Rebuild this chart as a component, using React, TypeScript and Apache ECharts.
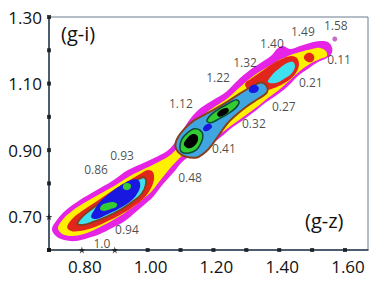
import React, { useEffect, useRef } from "react";
import * as echarts from "echarts";

type Pt = [number, number];

// axis labels and tick markers
const xTickLabels = ["0.80", "1.00", "1.20", "1.40", "1.60"];
const yTickLabels = ["0.70", "0.90", "1.10", "1.30"];
const xMarkers = [0.7, 0.8, 0.9, 1.0, 1.1, 1.2, 1.3, 1.4, 1.5, 1.6];
const yMarkers = [0.6, 0.7, 0.8, 0.9, 1.0, 1.1, 1.2, 1.3];
const starMarkers: Pt[] = [[0.8, 0.6], [0.9, 0.6], [0.7, 0.7]];

// density contour outlines, (g-z, g-i)
const magentaBand: Pt[] = [
  [0.709, 0.663], [0.724, 0.69], [0.752, 0.72], [0.794, 0.75], [0.84, 0.777], [0.892, 0.807],
  [0.94, 0.84], [0.992, 0.864], [1.031, 0.882], [1.062, 0.9], [1.086, 0.927], [1.107, 0.96],
  [1.132, 0.997], [1.162, 1.027], [1.199, 1.051], [1.238, 1.075], [1.275, 1.111], [1.311, 1.141],
  [1.348, 1.165], [1.378, 1.186], [1.393, 1.204], [1.411, 1.213], [1.433, 1.204], [1.463, 1.213],
  [1.493, 1.222], [1.524, 1.228], [1.548, 1.225], [1.56, 1.21], [1.56, 1.192], [1.545, 1.177],
  [1.518, 1.165], [1.487, 1.144], [1.457, 1.123], [1.427, 1.093], [1.393, 1.066], [1.357, 1.042],
  [1.32, 1.012], [1.287, 0.988], [1.256, 0.967], [1.226, 0.942], [1.196, 0.921], [1.168, 0.906],
  [1.138, 0.888], [1.107, 0.867], [1.077, 0.831], [1.047, 0.798], [1.016, 0.759], [0.989, 0.735],
  [0.964, 0.714], [0.931, 0.687], [0.892, 0.666], [0.855, 0.648], [0.819, 0.636], [0.782, 0.627],
  [0.746, 0.63], [0.721, 0.642],
];
const yellowBand: Pt[] = [
  [0.727, 0.666], [0.743, 0.693], [0.77, 0.717], [0.806, 0.741], [0.849, 0.765], [0.898, 0.792],
  [0.946, 0.822], [0.995, 0.846], [1.037, 0.867], [1.068, 0.885], [1.092, 0.909], [1.116, 0.939],
  [1.141, 0.976], [1.171, 1.006], [1.208, 1.033], [1.244, 1.057], [1.281, 1.09], [1.317, 1.12],
  [1.354, 1.144], [1.39, 1.165], [1.427, 1.183], [1.463, 1.195], [1.5, 1.204], [1.524, 1.207],
  [1.542, 1.198], [1.545, 1.183], [1.524, 1.174], [1.493, 1.159], [1.463, 1.138], [1.433, 1.111],
  [1.399, 1.081], [1.366, 1.057], [1.329, 1.027], [1.296, 1.003], [1.262, 0.979], [1.232, 0.957],
  [1.202, 0.936], [1.174, 0.921], [1.144, 0.906], [1.107, 0.885], [1.074, 0.852], [1.044, 0.816],
  [1.013, 0.777], [0.983, 0.75], [0.952, 0.726], [0.916, 0.702], [0.879, 0.681], [0.843, 0.663],
  [0.806, 0.648], [0.77, 0.642], [0.74, 0.648],
];
const redLower: Pt[] = [
  [0.755, 0.669], [0.77, 0.693], [0.8, 0.717], [0.837, 0.741], [0.873, 0.765], [0.91, 0.789],
  [0.946, 0.81], [0.977, 0.828], [1.001, 0.84], [1.016, 0.834], [1.019, 0.81], [1.007, 0.78],
  [0.986, 0.753], [0.955, 0.729], [0.916, 0.705], [0.873, 0.684], [0.831, 0.666], [0.794, 0.657],
  [0.767, 0.657],
];
const redUpper: Pt[] = [
  [1.296, 1.099], [1.317, 1.117], [1.348, 1.138], [1.378, 1.159], [1.408, 1.174], [1.436, 1.183],
  [1.454, 1.177], [1.46, 1.156], [1.451, 1.132], [1.43, 1.111], [1.399, 1.093], [1.366, 1.081],
  [1.335, 1.075], [1.311, 1.078],
];
const redTip: Pt[] = [
  [1.475, 1.177], [1.481, 1.189], [1.496, 1.192], [1.506, 1.183], [1.503, 1.168], [1.487, 1.165],
];
const cyanLower: Pt[] = [
  [0.786, 0.679], [0.805, 0.704], [0.836, 0.728], [0.87, 0.752], [0.907, 0.776], [0.943, 0.797],
  [0.972, 0.813], [0.99, 0.818], [0.995, 0.798], [0.982, 0.769], [0.953, 0.744], [0.916, 0.72],
  [0.873, 0.699], [0.834, 0.684], [0.803, 0.675],
];
const cyanUpper: Pt[] = [
  [1.366, 1.105], [1.381, 1.129], [1.402, 1.147], [1.424, 1.162], [1.442, 1.165], [1.448, 1.15],
  [1.436, 1.129], [1.414, 1.114], [1.39, 1.102],
];
const skyMid: Pt[] = [
  [1.084, 0.914], [1.093, 0.94], [1.114, 0.966], [1.139, 0.988], [1.172, 1.006], [1.207, 1.025],
  [1.243, 1.046], [1.28, 1.07], [1.316, 1.091], [1.344, 1.103], [1.362, 1.093], [1.362, 1.073],
  [1.329, 1.05], [1.298, 1.029], [1.268, 1.005], [1.242, 0.98], [1.218, 0.947], [1.2, 0.922],
  [1.18, 0.898], [1.15, 0.878], [1.114, 0.881], [1.093, 0.894],
];
const blueLower: Pt[] = [
  [0.828, 0.699], [0.84, 0.724], [0.858, 0.748], [0.883, 0.77], [0.908, 0.788], [0.933, 0.803],
  [0.955, 0.812], [0.973, 0.809], [0.977, 0.789], [0.964, 0.763], [0.942, 0.742], [0.911, 0.723],
  [0.873, 0.705], [0.843, 0.693],
];
const blueSpotMid: Pt[] = [
  [1.168, 0.964], [1.177, 0.976], [1.189, 0.979], [1.196, 0.97], [1.186, 0.96], [1.174, 0.957],
];
const blueSpotTop: Pt[] = [
  [1.308, 1.078], [1.314, 1.093], [1.329, 1.096], [1.338, 1.087], [1.332, 1.075], [1.317, 1.072],
];
const greenLower1: Pt[] = [
  [0.855, 0.723], [0.861, 0.735], [0.876, 0.741], [0.895, 0.744], [0.907, 0.738], [0.904, 0.729],
  [0.888, 0.723], [0.867, 0.717],
];
const greenLower2: Pt[] = [
  [0.925, 0.786], [0.928, 0.798], [0.94, 0.801], [0.949, 0.795], [0.946, 0.783], [0.934, 0.78],
];
const greenMidA: Pt[] = [
  [1.098, 0.909], [1.104, 0.933], [1.12, 0.951], [1.141, 0.964], [1.159, 0.96], [1.168, 0.945],
  [1.162, 0.921], [1.147, 0.9], [1.123, 0.891], [1.104, 0.894],
];
const greenMidB: Pt[] = [
  [1.18, 0.988], [1.192, 1.006], [1.217, 1.024], [1.244, 1.039], [1.268, 1.051], [1.278, 1.045],
  [1.268, 1.027], [1.244, 1.009], [1.217, 0.994], [1.192, 0.982],
];
const blackMidA: Pt[] = [
  [1.11, 0.918], [1.12, 0.936], [1.135, 0.948], [1.15, 0.945], [1.153, 0.93], [1.141, 0.912],
  [1.123, 0.906],
];
const blackMidB: Pt[] = [
  [1.211, 1.009], [1.223, 1.021], [1.241, 1.027], [1.247, 1.018], [1.235, 1.006], [1.217, 1.0],
];
const outlierPoint: Pt[] = [[1.569, 1.234]];

// annotation numbers
const annotationTexts = [
  "1.58", "1.49", "1.40", "1.32", "1.22", "1.12", "0.93", "0.86",
  "0.11", "0.21", "0.27", "0.32", "0.41", "0.48", "0.94", "1.0",
];
const annotationAt: Pt[] = [
  [1.572, 1.273], [1.472, 1.255], [1.378, 1.219], [1.296, 1.162], [1.214, 1.117], [1.101, 1.039],
  [0.922, 0.885], [0.843, 0.843], [1.582, 1.171], [1.496, 1.102], [1.414, 1.03], [1.323, 0.979],
  [1.232, 0.906], [1.129, 0.819], [0.937, 0.663], [0.861, 0.621],
];

const FONT = '"Open Sans", "Liberation Sans", sans-serif';

export default function App() {
  const ref = useRef<HTMLDivElement>(null);
  useEffect(() => {
    if (!ref.current) return;
    const chart = echarts.init(ref.current, undefined, { renderer: "svg" });
    const teal = "#0c4a3a";
    const brown = "#8a3f1c";
    const layers: { pts: Pt[]; fill: string; stroke?: string; lw?: number }[] = [
      { pts: magentaBand, fill: "#e524e5" },
      { pts: yellowBand, fill: "#fff000" },
      { pts: redLower, fill: "#e3261c" },
      { pts: redUpper, fill: "#e3261c" },
      { pts: redTip, fill: "#e3261c" },
      { pts: cyanLower, fill: "#3fe0f0", stroke: brown, lw: 2 },
      { pts: cyanUpper, fill: "#3fe0f0" },
      { pts: skyMid, fill: "#3fa6e2", stroke: brown, lw: 2 },
      { pts: blueLower, fill: "#1818e0" },
      { pts: greenLower1, fill: "#33cc33" },
      { pts: greenLower2, fill: "#33cc33" },
      { pts: greenMidA, fill: "#33cc33", stroke: teal, lw: 1.5 },
      { pts: greenMidB, fill: "#33cc33", stroke: teal, lw: 1.5 },
      { pts: blueSpotMid, fill: "#1818e0" },
      { pts: blueSpotTop, fill: "#1818e0" },
      { pts: blackMidA, fill: "#000000" },
      { pts: blackMidB, fill: "#000000" },
    ];
    const squares: Pt[] = [];
    const isStar = (p: Pt) =>
      starMarkers.some((s) => Math.abs(s[0] - p[0]) < 1e-6 && Math.abs(s[1] - p[1]) < 1e-6);
    xMarkers.forEach((x) => { const p: Pt = [x, 0.6]; if (!isStar(p)) squares.push(p); });
    yMarkers.forEach((y) => { const p: Pt = [0.7, y]; if (!isStar(p)) squares.push(p); });

    const starPath =
      "path://M50,0 L61,35 L98,35 L68,57 L79,92 L50,70 L21,92 L32,57 L2,35 L39,35 Z";

    chart.setOption({
      animation: false,
      textStyle: { fontFamily: FONT },
      grid: {
        left: 49, right: 8, top: 17, bottom: 37,
        show: true, borderColor: "#6a7a8c", borderWidth: 1, backgroundColor: "transparent",
      },
      xAxis: {
        type: "value", min: 0.7, max: 1.67, interval: 0.1,
        axisLine: { show: true, lineStyle: { color: "#2c3e50", width: 1.5 } },
        axisTick: { show: false }, splitLine: { show: false },
        axisLabel: {
          margin: 8, fontSize: 17, color: "#111", fontFamily: FONT, padding: [0, 0, 0, 6],
          showMinLabel: true, showMaxLabel: true,
          formatter: (v: number) => (xTickLabels.includes(v.toFixed(2)) ? v.toFixed(2) : ""),
        },
      },
      yAxis: {
        type: "value", min: 0.6, max: 1.3, interval: 0.1,
        axisLine: { show: true, lineStyle: { color: "#2c3e50", width: 1.5 } },
        axisTick: { show: false }, splitLine: { show: false },
        axisLabel: {
          margin: 7, fontSize: 17, color: "#111", fontFamily: FONT, padding: [5, 0, 0, 0],
          showMinLabel: true, showMaxLabel: true,
          formatter: (v: number) => (yTickLabels.includes(v.toFixed(2)) ? v.toFixed(2) : ""),
        },
      },
      series: [
        {
          type: "custom",
          data: layers.map((l) => l.pts[0]),
          encode: { x: 0, y: 1 },
          clip: true,
          renderItem: (params: any, api: any) => {
            const layer = layers[params.dataIndex];
            const points = layer.pts.map((p) => api.coord(p));
            return {
              type: "polygon",
              shape: { points, smooth: 0.35 },
              style: {
                fill: layer.fill,
                stroke: layer.stroke || null,
                lineWidth: layer.lw || 0,
              },
            };
          },
        },
        {
          type: "scatter",
          data: outlierPoint,
          symbolSize: 5,
          itemStyle: { color: "#b64ab6" },
        },
        {
          type: "scatter",
          data: annotationAt,
          symbolSize: 0,
          itemStyle: { color: "#1c1c1c" },
          label: {
            show: true,
            position: [0, 0],
            align: "center",
            verticalAlign: "middle",
            fontSize: 12,
            color: "#1c1c1c",
            fontFamily: FONT,
            formatter: (p: any) => annotationTexts[p.dataIndex],
          },
        },
        {
          type: "scatter",
          data: squares,
          symbol: "rect",
          symbolSize: 4,
          clip: false,
          itemStyle: { color: "#111" },
        },
        {
          type: "scatter",
          data: starMarkers,
          symbol: starPath,
          symbolSize: 7,
          clip: false,
          itemStyle: { color: "#111" },
        },
      ],
      graphic: [
        { type: "text", left: 61, top: 23, style: { text: "(g-i)", font: `20px ${FONT}`, fill: "#111" } },
        { type: "text", left: 305, top: 210, style: { text: "(g-z)", font: `20px ${FONT}`, fill: "#111" } },
      ],
    });
    return () => chart.dispose();
  }, []);
  return (
    <div
      ref={ref}
      style={{ position: "fixed", left: 0, top: 0, width: 376, height: 287, background: "#fff" }}
    />
  );
}
